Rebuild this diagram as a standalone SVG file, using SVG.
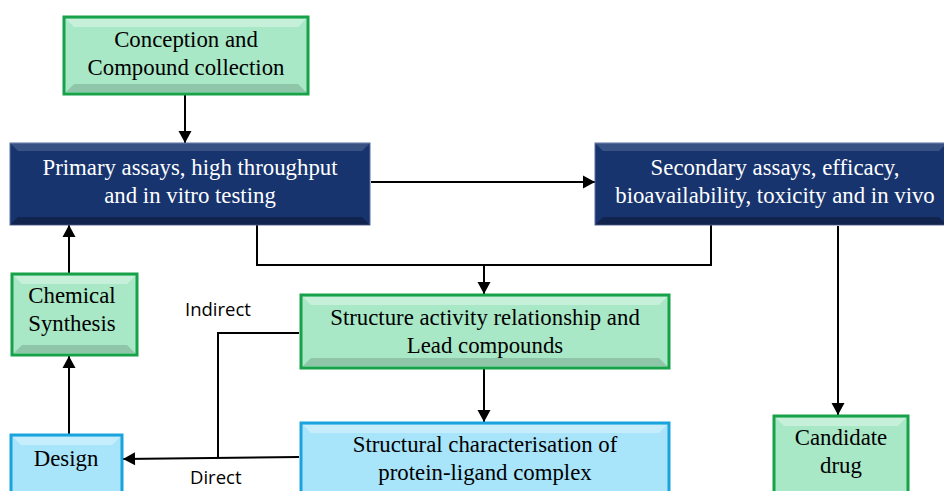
<svg xmlns="http://www.w3.org/2000/svg" width="944" height="491" viewBox="0 0 944 491">
<style>
.t{font-family:"Liberation Serif","Times New Roman",serif;font-size:22.8px;text-anchor:middle}
.dk{fill:#000}
.wt{fill:#fff}
.lb{font-family:"Open Sans","Liberation Sans",sans-serif;font-size:18.5px;fill:#000}
.ln{fill:none;stroke:#000;stroke-width:2}
.g{fill:#a8e8c6;stroke:#17a24a;stroke-width:3}
.n{fill:#17346f;stroke:#5a6fa0;stroke-width:1}
.b{fill:#a8e4fa;stroke:#1aa3dc;stroke-width:3}
.hi{fill:#fff;opacity:0.35}
.sh{fill:#000;opacity:0.15}
</style>
<defs>
<marker id="ah" markerWidth="20" markerHeight="20" refX="0" refY="0" orient="auto" markerUnits="userSpaceOnUse" style="overflow:visible">
<path d="M-12,-6.5 L0,0 L-12,6.5 z" fill="#000"/>
</marker>
</defs>
<g id="connectors">
<line class="ln" x1="185" y1="94" x2="185" y2="143" marker-end="url(#ah)"/>
<line class="ln" x1="371" y1="182" x2="595" y2="182" marker-end="url(#ah)"/>
<polyline class="ln" points="257,225 257,265 711,265 711,225"/>
<line class="ln" x1="484" y1="265" x2="484" y2="294" marker-end="url(#ah)"/>
<line class="ln" x1="484" y1="369" x2="484" y2="422" marker-end="url(#ah)"/>
<line class="ln" x1="838" y1="226" x2="838" y2="415" marker-end="url(#ah)"/>
<line class="ln" x1="69" y1="434" x2="69" y2="356" marker-end="url(#ah)"/>
<line class="ln" x1="69" y1="273" x2="69" y2="225" marker-end="url(#ah)"/>
<polyline class="ln" points="299,333 218,333 218,458"/>
<line class="ln" x1="299" y1="457" x2="123" y2="459" marker-end="url(#ah)"/>
<text class="lb" x="185" y="316">Indirect</text>
<text class="lb" x="190" y="484">Direct</text>
</g>
<g id="conception">
<rect class="g" x="64" y="17" width="244" height="77"/>
<polygon class="hi" points="66,19 306,19 298,27 74,27"/>
<polygon class="sh" points="66,92 306,92 298,84 74,84"/>
<text class="t dk" x="186" y="47">Conception and</text>
<text class="t dk" x="186" y="75">Compound collection</text>
</g>
<g id="primary">
<rect class="n" x="10" y="143" width="360" height="82"/>
<polygon class="hi" points="10,143 370,143 362,151 18,151" style="opacity:0.15"/>
<polygon class="sh" points="10,225 370,225 362,217 18,217" style="opacity:0.3"/>
<text class="t wt" x="190" y="175">Primary assays, high throughput</text>
<text class="t wt" x="190" y="203">and in vitro testing</text>
</g>
<g id="secondary">
<rect class="n" x="595" y="143" width="352" height="82"/>
<polygon class="hi" points="595,143 947,143 939,151 603,151" style="opacity:0.15"/>
<polygon class="sh" points="595,225 947,225 939,217 603,217" style="opacity:0.3"/>
<text class="t wt" x="775" y="175">Secondary assays, efficacy,</text>
<text class="t wt" x="775" y="203">bioavailability, toxicity and in vivo</text>
</g>
<g id="chemical">
<rect class="g" x="12" y="274" width="125" height="81"/>
<polygon class="hi" points="14,276 135,276 127,284 22,284"/>
<polygon class="sh" points="14,353 135,353 127,345 22,345"/>
<text class="t dk" x="72" y="303">Chemical</text>
<text class="t dk" x="72" y="331">Synthesis</text>
</g>
<g id="design">
<rect class="b" x="11" y="435" width="111" height="60"/>
<polygon class="hi" points="13,437 120,437 112,445 21,445"/>
<text class="t dk" x="66" y="466">Design</text>
</g>
<g id="sar">
<rect class="g" x="301" y="295" width="368" height="73"/>
<polygon class="hi" points="303,297 667,297 659,305 311,305"/>
<polygon class="sh" points="303,366 667,366 659,358 311,358"/>
<text class="t dk" x="485" y="325">Structure activity relationship and</text>
<text class="t dk" x="485" y="353">Lead compounds</text>
</g>
<g id="structural">
<rect class="b" x="301" y="423" width="368" height="72"/>
<polygon class="hi" points="303,425 667,425 659,433 311,433"/>
<text class="t dk" x="485" y="452">Structural characterisation of</text>
<text class="t dk" x="485" y="480">protein-ligand complex</text>
</g>
<g id="candidate">
<rect class="g" x="774" y="416" width="134" height="79"/>
<polygon class="hi" points="776,418 906,418 898,426 784,426"/>
<text class="t dk" x="841" y="445">Candidate</text>
<text class="t dk" x="841" y="473">drug</text>
</g>
</svg>
